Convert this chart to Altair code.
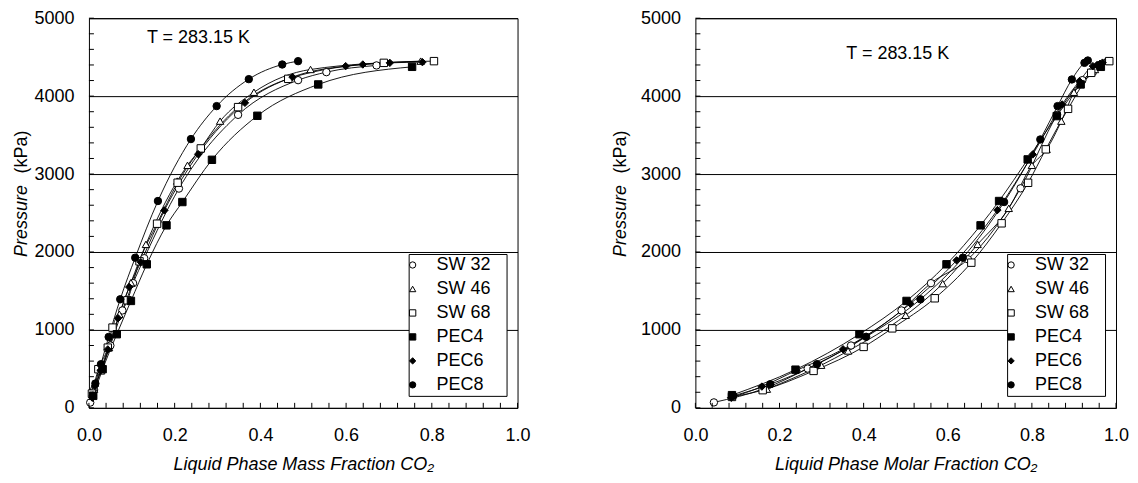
import altair as alt
import pandas as pd

FONT = "Liberation Sans"

series_names = ["SW 32", "SW 46", "SW 68", "PEC4", "PEC6", "PEC8"]
shape_range = ["circle", "triangle-up", "square", "square", "diamond", "circle"]
fill_range = ["white", "white", "white", "black", "black", "black"]
stroke_range = ["black", "black", "black", "black", "black", "black"]

# ---- Left panel: liquid phase mass fraction CO2 ----
mass_sw32_x = [0.003, 0.012, 0.030, 0.050, 0.078, 0.103, 0.129, 0.210, 0.348, 0.488, 0.554, 0.671]
mass_sw32_p = [68, 230, 500, 800, 1250, 1600, 1920, 2814, 3760, 4205, 4308, 4394]
mass_sw46_x = [0.012, 0.028, 0.047, 0.071, 0.098, 0.133, 0.206, 0.230, 0.259, 0.306, 0.385, 0.517, 0.774]
mass_sw46_p = [240, 474, 773, 1201, 1606, 2098, 2910, 3112, 3317, 3679, 4050, 4342, 4449]
mass_sw68_x = [0.007, 0.022, 0.044, 0.055, 0.090, 0.118, 0.159, 0.207, 0.261, 0.348, 0.465, 0.688, 0.805]
mass_sw68_p = [183, 496, 773, 1030, 1380, 1880, 2363, 2889, 3329, 3859, 4222, 4427, 4449]
mass_pec4_x = [0.010, 0.032, 0.065, 0.098, 0.135, 0.181, 0.218, 0.287, 0.393, 0.535, 0.754]
mass_pec4_p = [154, 496, 945, 1372, 1842, 2342, 2641, 3183, 3748, 4150, 4376]
mass_pec6_x = [0.008, 0.014, 0.027, 0.044, 0.068, 0.094, 0.121, 0.176, 0.255, 0.364, 0.475, 0.599, 0.639, 0.702, 0.778]
mass_pec6_p = [130, 280, 480, 750, 1150, 1550, 1870, 2534, 3255, 3914, 4244, 4385, 4406, 4427, 4436]
mass_pec8_x = [0.009, 0.015, 0.028, 0.046, 0.073, 0.108, 0.161, 0.238, 0.298, 0.373, 0.451, 0.488]
mass_pec8_p = [154, 312, 560, 910, 1393, 1927, 2654, 3449, 3872, 4218, 4406, 4449]

# ---- Right panel: liquid phase molar fraction CO2 ----
mol_sw32_x = [0.044, 0.165, 0.267, 0.370, 0.490, 0.560, 0.648, 0.773, 0.860, 0.920, 0.945, 0.960]
mol_sw32_p = [70, 250, 504, 800, 1250, 1600, 1906, 2817, 3760, 4205, 4308, 4394]
mol_sw46_x = [0.170, 0.299, 0.363, 0.500, 0.588, 0.671, 0.745, 0.800, 0.835, 0.870, 0.900, 0.950, 0.975]
mol_sw46_p = [240, 547, 730, 1188, 1594, 2098, 2560, 3112, 3317, 3679, 4050, 4342, 4449]
mol_sw68_x = [0.087, 0.160, 0.281, 0.400, 0.468, 0.569, 0.656, 0.728, 0.791, 0.833, 0.886, 0.941, 0.984]
mol_sw68_p = [140, 227, 474, 782, 1020, 1406, 1863, 2368, 2888, 3317, 3837, 4299, 4449]
mol_pec4_x = [0.087, 0.238, 0.390, 0.502, 0.597, 0.678, 0.722, 0.790, 0.859, 0.916, 0.964]
mol_pec4_p = [163, 490, 945, 1372, 1842, 2342, 2654, 3188, 3744, 4150, 4376]
mol_pec6_x = [0.085, 0.158, 0.240, 0.351, 0.511, 0.621, 0.718, 0.802, 0.872, 0.913, 0.945, 0.955, 0.962, 0.968]
mol_pec6_p = [130, 273, 480, 752, 1337, 1893, 2538, 3252, 3893, 4192, 4385, 4400, 4415, 4430]
mol_pec8_x = [0.090, 0.178, 0.289, 0.406, 0.535, 0.636, 0.734, 0.820, 0.861, 0.895, 0.925, 0.933]
mol_pec8_p = [154, 303, 560, 912, 1393, 1927, 2641, 3444, 3872, 4214, 4427, 4457]

x_label_values = [0.0, 0.2, 0.4, 0.6, 0.8, 1.0]
y_label_values = [0, 1000, 2000, 3000, 4000, 5000]
x_minor_ticks = [round(i * 0.04, 2) for i in range(26)]
y_minor_ticks = [i * 200 for i in range(26)]

temp_label = "T = 283.15 K"


def build_df(pairs):
    rows = []
    for name, (xs, ps) in zip(series_names, pairs):
        for i, (x, p) in enumerate(zip(xs, ps)):
            rows.append({"series": name, "x": x, "P": p, "order": i})
    return pd.DataFrame(rows)


mass_df = build_df([
    (mass_sw32_x, mass_sw32_p), (mass_sw46_x, mass_sw46_p), (mass_sw68_x, mass_sw68_p),
    (mass_pec4_x, mass_pec4_p), (mass_pec6_x, mass_pec6_p), (mass_pec8_x, mass_pec8_p),
])
mol_df = build_df([
    (mol_sw32_x, mol_sw32_p), (mol_sw46_x, mol_sw46_p), (mol_sw68_x, mol_sw68_p),
    (mol_pec4_x, mol_pec4_p), (mol_pec6_x, mol_pec6_p), (mol_pec8_x, mol_pec8_p),
])


def panel(df, xtitle, width, tx, ty, ytitle_dx):
    xscale = alt.Scale(domain=[0, 1], nice=False, zero=False, padding=0)
    yscale = alt.Scale(domain=[0, 5000], nice=False, padding=0)
    xaxis = alt.Axis(
        values=x_label_values, format=".1f", title=xtitle, grid=False, ticks=False, domain=False,
        labelFlush=False, labelOverlap=False,
        labelFontSize=18, labelPadding=19, labelFont=FONT, labelColor="black",
        titleFont=FONT, titleFontSize=18, titleFontStyle="italic", titleFontWeight="normal",
        titleColor="black", titlePadding=11)
    yaxis = alt.Axis(
        values=y_label_values, format="d", title="", grid=True, gridColor="black",
        gridOpacity=1, gridWidth=1, ticks=False, domain=False,
        labelFlush=False, labelOverlap=False,
        labelFontSize=18, labelPadding=15, labelFont=FONT, labelColor="black")

    def X(field):
        return alt.X(field, type="quantitative", scale=xscale, axis=xaxis)

    def Y(field):
        return alt.Y(field, type="quantitative", scale=yscale, axis=yaxis)

    base = alt.Chart(df)
    lines = base.mark_line(color="black", strokeWidth=0.9, interpolate="monotone").encode(
        x=X("x"), y=Y("P"), detail="series:N", order="order:Q")

    legend = alt.Legend(
        title=".", titleOrient="right", titleColor="white", titleFontSize=18,
        titlePadding=8, titleFont=FONT,
        orient="none", legendX=width - 109, legendY=236,
        padding=2, rowPadding=6, symbolOffset=-7,
        labelFont=FONT, labelFontSize=18, labelColor="black", labelOffset=15,
        symbolSize=40, symbolStrokeWidth=1,
        strokeColor="black", fillColor="white", cornerRadius=0)
    points = base.mark_point(filled=True, strokeWidth=1, size=55, opacity=1).encode(
        x=X("x"), y=Y("P"),
        shape=alt.Shape("series:N", scale=alt.Scale(domain=series_names, range=shape_range),
                        legend=legend, sort=series_names),
        fill=alt.Fill("series:N", scale=alt.Scale(domain=series_names, range=fill_range),
                      legend=legend, sort=series_names),
        stroke=alt.Stroke("series:N", scale=alt.Scale(domain=series_names, range=stroke_range),
                          legend=legend, sort=series_names),
    )

    yt = alt.Chart(pd.DataFrame({"P": y_minor_ticks})).mark_rule(color="black", strokeWidth=1).encode(
        y=Y("P"), x=alt.value(0), x2=alt.value(5))
    xt = alt.Chart(pd.DataFrame({"x": x_minor_ticks})).mark_rule(color="black", strokeWidth=1).encode(
        x=X("x"), y=alt.value(390), y2=alt.value(385))

    label = alt.Chart(pd.DataFrame({"t": [temp_label]})).mark_text(
        align="left", baseline="middle", font=FONT, fontSize=18, color="black").encode(
        text="t:N", x=alt.value(tx), y=alt.value(ty))

    ytitle1 = alt.Chart(pd.DataFrame({"t": ["Pressure"]})).mark_text(
        angle=270, align="center", baseline="middle", font=FONT, fontSize=18,
        fontStyle="italic", color="black").encode(text="t:N", x=alt.value(ytitle_dx), y=alt.value(203))
    ytitle2 = alt.Chart(pd.DataFrame({"t": ["(kPa)"]})).mark_text(
        angle=270, align="center", baseline="middle", font=FONT, fontSize=18,
        color="black").encode(text="t:N", x=alt.value(ytitle_dx), y=alt.value(134))

    return alt.layer(lines, points, yt, xt, label, ytitle1, ytitle2).properties(
        width=width, height=390)


left = panel(mass_df, "Liquid Phase Mass Fraction CO\u2082", 429, 58, 20, -67)
right = panel(mol_df, "Liquid Phase Molar Fraction CO\u2082", 421, 151, 36, -74)

chart = alt.hconcat(left, right, spacing=80).resolve_legend(
    shape="independent", fill="independent", stroke="independent").properties(
    padding={"left": 4, "top": 0, "right": 0, "bottom": 2},
    background="white").configure_view(stroke="black", strokeWidth=1)

chart.save("out.html", embed_options={"renderer": "svg", "actions": False})
